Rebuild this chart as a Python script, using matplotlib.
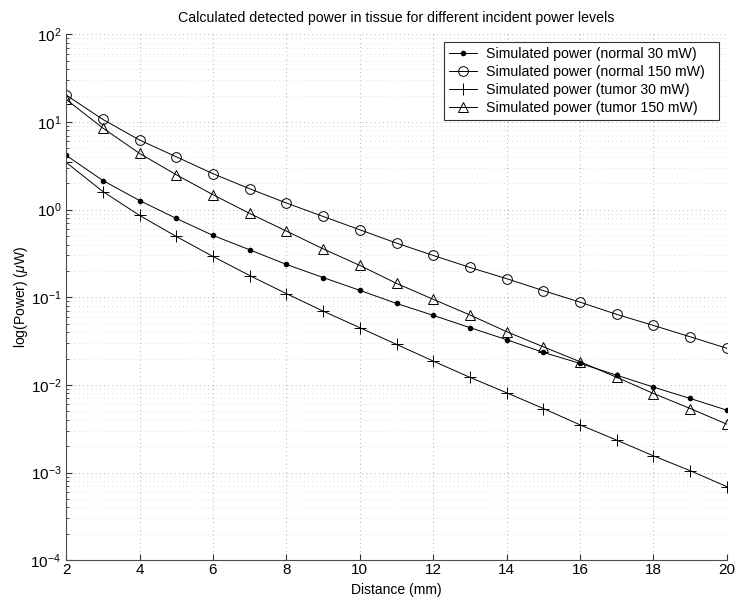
import numpy as np
import matplotlib
matplotlib.use("Agg")
import matplotlib.pyplot as plt
from matplotlib.ticker import LogLocator, NullFormatter, FixedLocator

plt.rcParams['font.family'] = ['Liberation Sans', 'DejaVu Sans']
plt.rcParams['mathtext.fontset'] = 'custom'
plt.rcParams['mathtext.rm'] = 'Liberation Sans'
plt.rcParams['mathtext.it'] = 'Liberation Sans:italic'

# distance from source (mm)
distance = list(range(2, 21))

# detected power (uW)
normal_30 = [4.16, 2.15, 1.27, 0.794, 0.508, 0.348, 0.237, 0.168, 0.120, 0.0850,
             0.0622, 0.0450, 0.0328, 0.0235, 0.0176, 0.0129, 0.00944, 0.0070, 0.00515]
normal_150 = [20.3, 10.7, 6.22, 4.01, 2.57, 1.73, 1.19, 0.836, 0.589, 0.415,
              0.300, 0.219, 0.163, 0.119, 0.088, 0.0637, 0.0477, 0.0354, 0.0262]
tumor_30 = [3.46, 1.61, 0.859, 0.494, 0.292, 0.177, 0.110, 0.0695, 0.0450, 0.0290,
            0.0187, 0.0122, 0.00813, 0.00538, 0.0035, 0.00234, 0.00155, 0.00105, 0.00069]
tumor_150 = [18.1, 8.53, 4.38, 2.50, 1.48, 0.905, 0.569, 0.357, 0.231, 0.144,
             0.0948, 0.0628, 0.0405, 0.0272, 0.0184, 0.0122, 0.00798, 0.00538, 0.00356]

labels = ['Simulated power (normal 30 mW)', 'Simulated power (normal 150 mW)',
          'Simulated power (tumor 30 mW)', 'Simulated power (tumor 150 mW)']

fig = plt.figure(figsize=(7.35, 6.03), dpi=100)
ax = fig.add_axes([0.09, 0.071, 0.899, 0.872])

lw = 0.7
ax.semilogy(distance, normal_30, '-', color='k', lw=lw, marker='o', ms=3.0,
            mfc='k', mec='k', label=labels[0])
ax.semilogy(distance, normal_150, '-', color='k', lw=lw, marker='o', ms=7,
            mfc='none', mec='k', mew=0.7, label=labels[1])
ax.semilogy(distance, tumor_30, '-', color='k', lw=lw, marker='+', ms=8,
            mec='k', mew=0.7, label=labels[2])
ax.semilogy(distance, tumor_150, '-', color='k', lw=lw, marker='^', ms=7.5,
            mfc='none', mec='k', mew=0.7, label=labels[3])

ax.set_xlim(2, 20)
ax.set_ylim(1e-4, 1e2)
ax.xaxis.set_major_locator(FixedLocator(np.arange(2, 21, 2)))
ax.yaxis.set_major_locator(LogLocator(base=10, numticks=10))
ax.yaxis.set_minor_locator(LogLocator(base=10, subs=np.arange(2, 10), numticks=20))
ax.yaxis.set_minor_formatter(NullFormatter())

ax.tick_params(which='both', direction='in', top=False, right=False,
               labelsize=11, color='0.2')
ax.tick_params(axis='x', pad=2)
ax.tick_params(which='major', length=4)
ax.tick_params(which='minor', length=2)

for side in ('top', 'right'):
    ax.spines[side].set_visible(False)
for side in ('left', 'bottom'):
    ax.spines[side].set_color('0.3')
    ax.spines[side].set_linewidth(0.8)

ax.grid(which='major', color='0.6', linestyle=(0, (1, 4)), lw=0.6)
ax.grid(which='minor', axis='y', color='0.75', linestyle=(0, (1, 5)), lw=0.5)

ax.set_title('Calculated detected power in tissue for different incident power levels',
             fontsize=10.2, pad=9)
ax.set_xlabel('Distance (mm)', fontsize=10, labelpad=4)
ax.set_ylabel('log(Power) ($\\mu$W)', fontsize=10, labelpad=0)

# legend box stretched a little wider than its text, left-aligned entries
leg = ax.legend(loc='upper left', bbox_to_anchor=(0.572, 0.5, 0.416, 0.485),
                mode='expand', fontsize=10.2, fancybox=False, framealpha=1,
                edgecolor='0.2', handlelength=2.0, handletextpad=0.6,
                borderpad=0.35, labelspacing=0.27, borderaxespad=0)
leg.get_frame().set_linewidth(0.8)

fig.savefig('out.png', dpi=100)
